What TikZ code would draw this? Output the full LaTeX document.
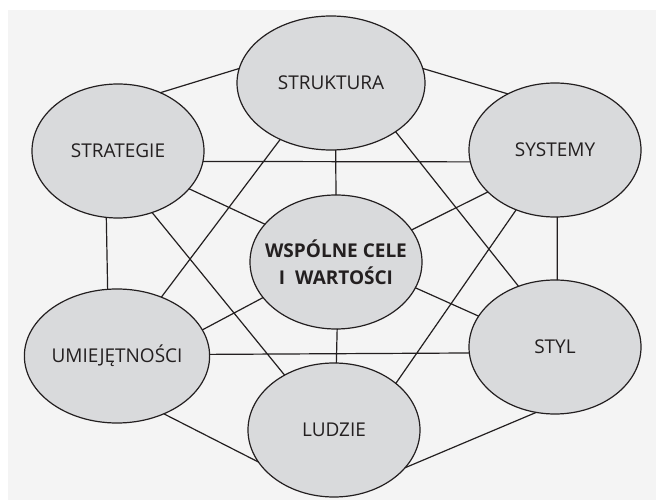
\documentclass[tikz,border=0pt]{standalone}
\usepackage{fontspec}
\setmainfont{Open Sans}
\usetikzlibrary{shapes.geometric}
\definecolor{panel}{HTML}{F4F4F4}
\definecolor{ellfill}{HTML}{D9DADC}
\definecolor{ink}{HTML}{231F20}
\begin{document}
\begin{tikzpicture}[x=1pt,y=-1pt,
  sev/.style={ellipse,draw=ink,line width=1.2pt,fill=ellfill,inner sep=0pt,outer sep=0pt,
    minimum width=172pt,minimum height=134pt,font=\fontsize{19}{23}\selectfont,text=ink},
  link/.style={draw=ink,line width=1.2pt}]
\useasboundingbox (0,0) rectangle (656,502);
\fill[white] (0,0) rectangle (656,502);
\fill[panel] (8,10) rectangle (656,500);
\node[sev,minimum width=188pt] (strukt) at (331,83) {STRUKTURA};
\node[sev] (strat) at (118,151) {STRATEGIE};
\node[sev] (sys) at (555,150) {SYSTEMY};
\node[sev] (wsp) at (336,262) {};
\node[sev] (umiej) at (117,356) {UMIEJĘTNOŚCI};
\node[sev] (styl) at (555,347) {STYL};
\node[sev] (ludzie) at (334,430) {LUDZIE};
\node[font=\fontsize{19}{27}\selectfont\bfseries,text=ink,align=center] (wsptext) at (wsp.center) {WSPÓLNE CELE\\I\ \ WARTOŚCI};
\path[link]
  (strat.54.6) -- (strukt.171.4)
  (strukt.9.9) -- (sys.130)
  (sys.-88) -- (styl.88)
  (styl.254.7) -- (ludzie.-28.5)
  (umiej.-51.1) -- (ludzie.203.7)
  (strat.260.7) -- (umiej.98.5)
  (strat.-7.4) -- (sys.188.1)
  (umiej.1.3) -- (styl.184.7)
  (strukt.-86) -- (wsp.90)
  (wsp.-89) -- (ludzie.88)
  (strat.-28.4) -- (wsp.152.5)
  (sys.212.3) -- (wsp.23.2)
  (umiej.17.4) -- (wsp.206.3)
  (wsp.-18) -- (styl.158.7)
  (strat.-61.6) -- (ludzie.132.8)
  (strukt.228.2) -- (umiej.53)
  (strukt.-37.4) -- (styl.121.7)
  (sys.237.4) -- (ludzie.37.7);
\end{tikzpicture}
\end{document}
